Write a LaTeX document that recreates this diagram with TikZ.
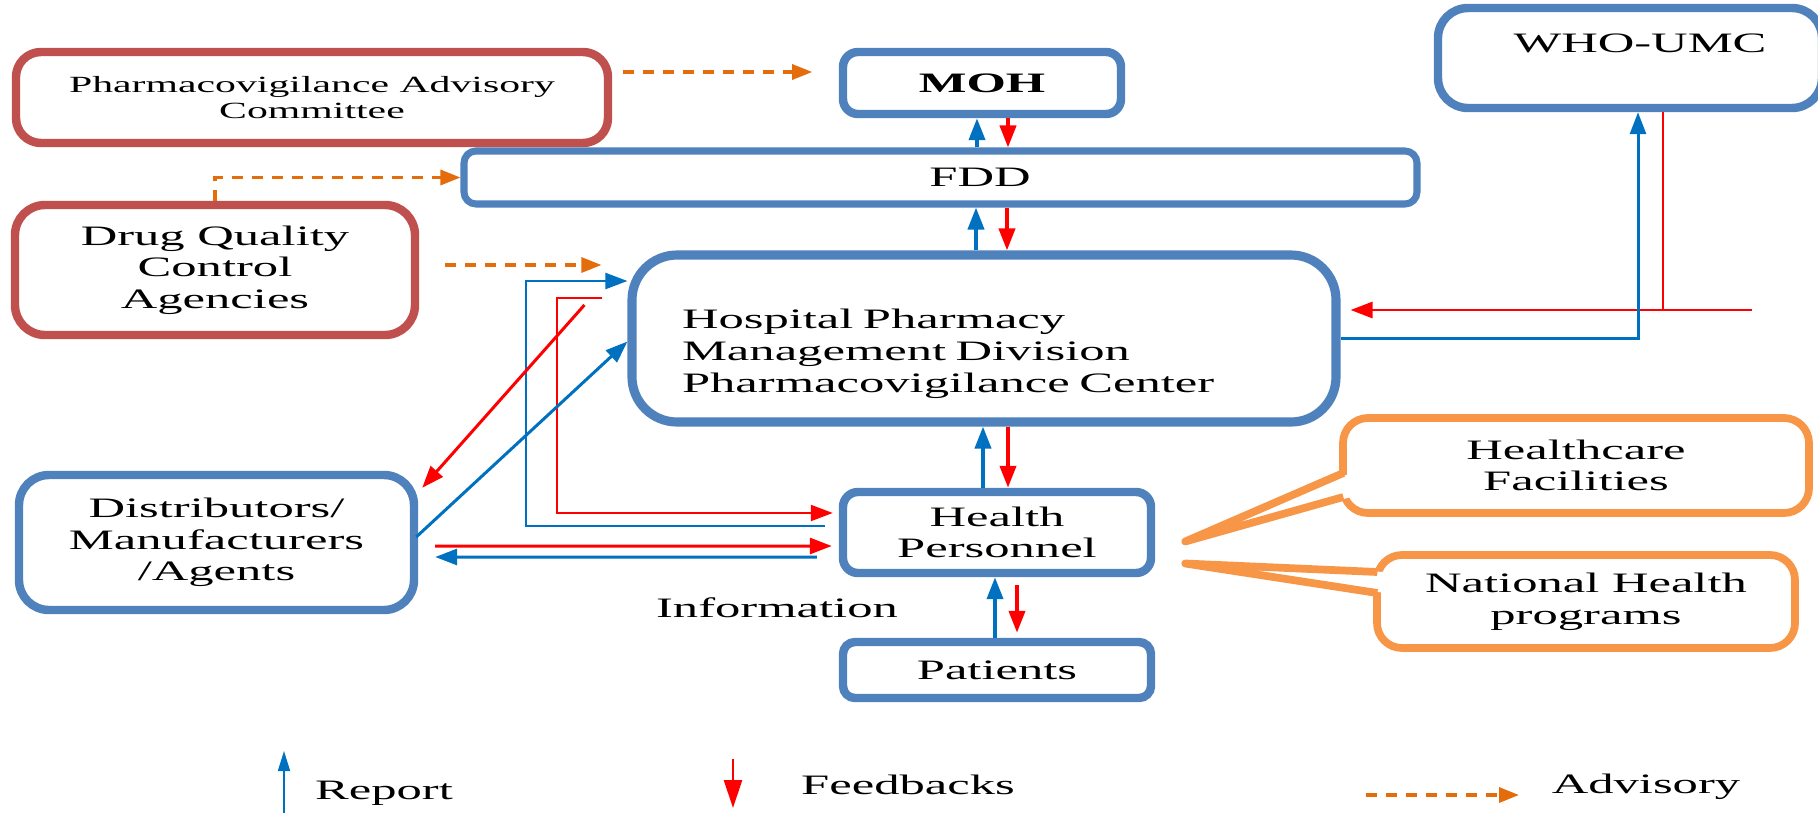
\documentclass[tikz,border=0pt]{standalone}
\usepackage{fontspec}
\setmainfont{Liberation Serif}[FakeStretch=1.8]
\usepackage{tikz}
\usetikzlibrary{calc,arrows.meta}
\definecolor{boxblue}{RGB}{79,129,189}
\definecolor{boxred}{RGB}{192,80,77}
\definecolor{boxorange}{RGB}{247,150,70}
\definecolor{repblue}{RGB}{0,112,192}
\definecolor{fbred}{RGB}{255,0,0}
\definecolor{advorange}{RGB}{228,108,10}
\tikzset{
  pvbox/.style={draw=boxblue, line width=2.4pt, fill=white, rounded corners=0.15cm,
                inner sep=0pt, align=center, font=\fontsize{8}{9}\selectfont},
  pvred/.style={pvbox, draw=boxred},
  pvcall/.style={pvbox, draw=boxorange, line width=2.2pt, rounded corners=0.25cm},
  pvlab/.style={inner sep=0pt, font=\fontsize{8}{9}\selectfont},
  pvrep/.style={draw=repblue, line width=1.1pt, -{Triangle[length=0.22cm,width=0.16cm]}},
  pvfb/.style={draw=fbred, line width=1.1pt, -{Triangle[length=0.22cm,width=0.16cm]}},
  pvadv/.style={draw=advorange, line width=0.9pt, dash pattern=on 0.11cm off 0.09cm,
                -{Triangle[length=0.2cm,width=0.15cm]}},
  pvthin/.style={line width=0.6pt},
  pvmid/.style={line width=0.85pt},
  pvwedge/.style={draw=boxorange, line width=2.2pt, line join=round}
}

\begin{document}
\begin{tikzpicture}
  \useasboundingbox[fill=white] (0,0) rectangle (18.18,8.13);
  \node[pvred, minimum width=5.92cm, minimum height=0.91cm, rounded corners=0.25cm,
        font=\fontsize{6.6}{7.3}\selectfont] (pac) at (3.12,7.155)
        {Pharmacovigilance Advisory\\Committee};
  \node[pvbox, minimum width=2.78cm, minimum height=0.62cm] (moh) at (9.82,7.30) {\textbf{MOH}};
  \node[pvbox, line width=2pt, rounded corners=0.12cm, minimum width=9.53cm,
        minimum height=0.53cm] (fdd) at (9.405,6.355) {\hspace*{0.79cm}FDD};
  \node[pvbox, rounded corners=0.3cm, minimum width=3.84cm, minimum height=1.0cm,
        text height=0.2cm, text depth=0.32cm] (who) at (16.30,7.55) {\hspace*{0.2cm}WHO-UMC};
  \node[pvred, rounded corners=0.3cm, minimum width=4.0cm, minimum height=1.3cm] (dqc)
        at (2.15,5.43) {Drug Quality\\Control\\Agencies};
  \node[pvbox, line width=2.6pt, rounded corners=0.45cm, minimum height=1.67cm,
        text width=6.04cm, inner xsep=0.5cm, align=left] (hpmd) at (9.84,4.745)
        {\rule{0pt}{0.5cm}Hospital Pharmacy\\Management Division\\Pharmacovigilance Center};
  \node[pvbox, rounded corners=0.3cm, minimum width=3.95cm, minimum height=1.35cm] (dist)
        at (2.165,2.705) {Distributors/\\Manufacturers\\/Agents};
  \node[pvbox, minimum width=3.08cm, minimum height=0.81cm] (hp) at (9.97,2.805)
        {Health\\Personnel};
  \node[pvbox, rounded corners=0.12cm, minimum width=3.08cm, minimum height=0.56cm] (pat)
        at (9.97,1.43) {Patients};
  \node[pvcall, minimum width=4.66cm, minimum height=0.95cm] (hf) at (15.76,3.475)
        {Healthcare\\Facilities};
  \node[pvcall, minimum width=4.18cm, minimum height=0.93cm] (nhp) at (15.86,2.115)
        {National Health\\programs};
  \node[pvlab] (info) at (7.77,2.05) {Information};

  \coordinate (hftip) at ($(hp.east)+(0.3,-0.09)$);
  \coordinate (nhptip) at ($(hp.east)+(0.3,-0.31)$);
  \fill[white] ($(hf.west)+(0.12,-0.075)$) -- (hftip) -- ($(hf.west)+(0.12,-0.315)$) -- cycle;
  \draw[pvwedge] ($(hf.west)+(0.042,-0.075)$) -- (hftip) -- ($(hf.west)+(0.042,-0.315)$);
  \fill[white] ($(nhp.west)+(0.12,0.295)$) -- (nhptip) -- ($(nhp.west)+(0.12,0.085)$) -- cycle;
  \draw[pvwedge] ($(nhp.west)+(0.042,0.295)$) -- (nhptip) -- ($(nhp.west)+(0.042,0.085)$);

  \draw[pvrep] (fdd.north -| 9.77,0) -- (moh.south -| 9.77,0);
  \draw[pvfb] (moh.south -| 10.08,0) -- (fdd.north -| 10.08,0);
  \draw[pvrep] (hpmd.north -| 9.76,0) -- (fdd.south -| 9.76,0);
  \draw[pvfb] (fdd.south -| 10.07,0) -- (hpmd.north -| 10.07,0);
  \draw[pvrep] (hp.north -| 9.83,0) -- (hpmd.south -| 9.83,0);
  \draw[pvfb] (hpmd.south -| 10.08,0) -- (hp.north -| 10.08,0);
  \draw[pvrep] (pat.north -| 9.95,0) -- (hp.south -| 9.95,0);
  \draw[pvfb, shorten <=0.08cm, shorten >=0.05cm] (hp.south -| 10.17,0) -- (pat.north -| 10.17,0);

  \draw[pvadv] ($(pac.east)+(0.11,0.255)$) -- ++(1.89,0);
  \draw[pvadv] (dqc.north) |- (fdd.west);
  \draw[pvadv] ($(dqc.east)+(0.26,0.05)$) -- ($(hpmd.west)+(-0.26,0.735)$);

  \draw[pvrep, pvthin] ($(hp.west)+(-0.14,0.065)$) -- ++(-2.99,0) |- ($(hpmd.west)+(0,0.575)$);
  \draw[pvfb, pvthin] ($(hpmd.west)+(-0.25,0.405)$) -- ++(-0.45,0) |- ($(hp.west)+(-0.06,0.195)$);
  \draw[pvfb, pvmid] ($(hpmd.west)+(-0.43,0.335)$) -- ($(dist.north east)+(0.04,-0.17)$);
  \draw[pvrep, pvmid] ($(dist.east)+(-0.02,0.055)$) -- ($(hpmd.west)+(0,-0.03)$);
  \draw[pvfb, pvmid] ($(dist.east)+(0.17,-0.035)$) -- ($(hp.west)+(-0.07,-0.135)$);
  \draw[pvrep, pvmid] ($(hp.west)+(-0.22,-0.245)$) -- ($(dist.east)+(0.17,-0.145)$);

  \coordinate (fbin) at (17.52,5.03);
  \draw[pvfb, pvthin, -] ($(who.south)+(0.33,0)$) |- (fbin);
  \draw[pvfb, pvmid] (fbin) -- ($(hpmd.east |- fbin)+(0.1,0)$);
  \draw[pvrep, pvmid] (hpmd.east) -| ($(who.south)+(0.08,0)$);

  \node[pvlab] (report) at (3.84,0.20) {Report};
  \node[pvlab] (feedb) at (9.08,0.28) {Feedbacks};
  \node[pvlab] (advis) at (16.46,0.26) {Advisory};
  \coordinate (repa) at (2.84,0);
  \coordinate (repb) at (2.84,0.62);
  \coordinate (fba) at (7.33,0.54);
  \coordinate (fbb) at (7.33,0.05);
  \coordinate (adva) at (13.66,0.18);
  \coordinate (advb) at (15.19,0.18);
  \draw[pvrep, line width=0.5pt, -{Triangle[length=0.2cm,width=0.12cm]}] (repa) -- (repb);
  \draw[pvfb, line width=0.8pt, -{Triangle[length=0.28cm,width=0.18cm]}] (fba) -- (fbb);
  \draw[pvadv] (adva) -- (advb);
\end{tikzpicture}
\end{document}
